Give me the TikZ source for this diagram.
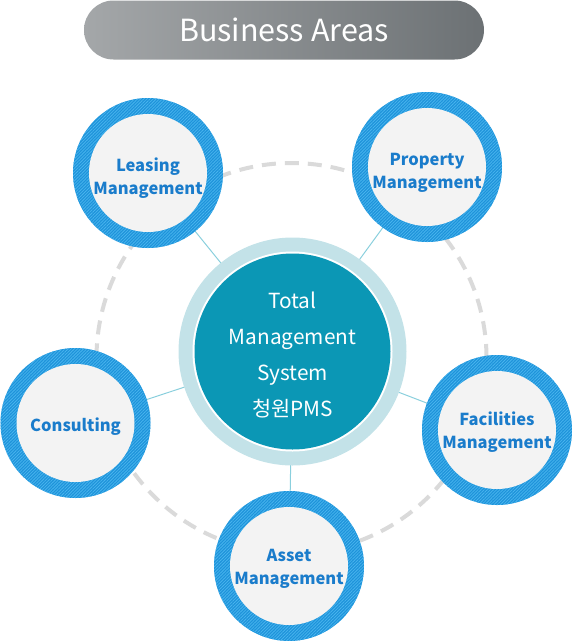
\documentclass[tikz,border=0pt]{standalone}
\usepackage{fontspec}
\setmainfont{Noto Sans CJK KR}
\usetikzlibrary{patterns.meta,backgrounds}
\definecolor{ringblue}{HTML}{1E93DA}
\definecolor{ringlight}{HTML}{48B4EE}
\definecolor{innergray}{HTML}{F3F3F3}
\definecolor{satText}{HTML}{1A7CCB}
\definecolor{coreDark}{HTML}{0B97B5}
\definecolor{coreRing}{HTML}{C3E2E8}
\definecolor{linkCol}{HTML}{8ACFDD}
\definecolor{dashCol}{HTML}{DADADA}
\definecolor{pillL}{HTML}{A4A7A9}
\definecolor{pillR}{HTML}{6C7174}
\begin{document}
\begin{tikzpicture}[x=1pt,y=-1pt,
  satnode/.style={circle, minimum size=150pt, inner sep=0pt,
    preaction={fill=ringblue},
    pattern={Lines[angle=45,distance=2.2pt,line width=0.8pt]}, pattern color=ringlight,
    path picture={\fill[innergray] (path picture bounding box.center) circle[radius=59pt];}},
  sattext/.style={align=center, text=satText, inner sep=0pt,
    font=\bfseries\fontsize{16.5}{22.5}\selectfont},
  corenode/.style={circle, minimum size=228pt, inner sep=0pt, fill=coreRing,
    path picture={\fill[white] (path picture bounding box.center) circle[radius=100pt];
                  \fill[coreDark] (path picture bounding box.center) circle[radius=98pt];}},
  coretext/.style={align=center, text=white, inner sep=0pt,
    font=\fontsize{20.8}{36}\selectfont},
  pillnode/.style={rectangle, rounded corners=29.5pt, minimum width=400pt, minimum height=59pt,
    left color=pillL, right color=pillR, text=white,
    font=\fontsize{30.5}{34}\selectfont},
  linkline/.style={linkCol, line width=1pt},
  dashring/.style={dashCol, line width=4pt, dash pattern=on 14pt off 9pt}
]
\useasboundingbox (0,0) rectangle (572,641);

\node[pillnode] (title) at (284,30) {Business Areas};

\node[corenode] (core) at (292.5,351.5) {};
\node[coretext, yshift=-3.5pt] (coret) at (core) {Total\\Management\\System\\청원PMS};

\node[satnode] (lease) at (148,173) {};
\node[satnode] (prop) at (427,167) {};
\node[satnode] (cons) at (75.5,423) {};
\node[satnode] (fac) at (497,430) {};
\node[satnode] (asset) at (289,566) {};

\node[sattext, yshift=-5pt] (leaset) at (lease) {Leasing\\Management};
\node[sattext, yshift=-6pt] (propt) at (prop) {Property\\Management};
\node[sattext, yshift=-4pt] (const) at (cons) {Consulting};
\node[sattext, yshift=-2pt] (fact) at (fac) {Facilities\\Management};
\node[sattext, yshift=-3pt] (assett) at (asset) {Asset\\Management};

\coordinate (ringc) at (291.5,358);

\begin{scope}[on background layer]
  \draw[dashring] (ringc) circle[radius=195pt];
  \draw[linkline] (core.center) -- (lease.center);
  \draw[linkline] (core.center) -- (prop.center);
  \draw[linkline] (core.center) -- (cons.center);
  \draw[linkline] (core.center) -- (fac.center);
  \draw[linkline] (core.center) -- (asset.center);
\end{scope}
\end{tikzpicture}
\end{document}
